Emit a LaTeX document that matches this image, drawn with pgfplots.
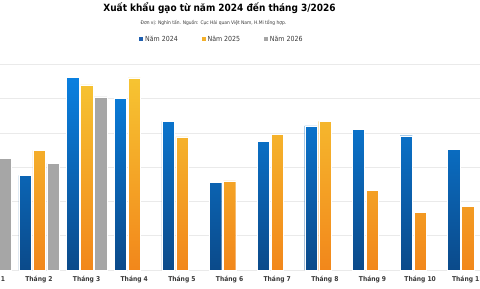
\documentclass[border=0pt]{standalone}
\usepackage{pgfplots}
\pgfplotsset{compat=1.18}
\usepackage{fontspec}
\setmainfont{DejaVu Sans Condensed}
\definecolor{bTop}{HTML}{0A80E0}
\definecolor{bBot}{HTML}{0B4A8A}
\definecolor{oTop}{HTML}{F6C432}
\definecolor{oBot}{HTML}{F2871B}
\definecolor{gFill}{HTML}{A6A6A6}
\definecolor{gridc}{HTML}{EAEAEA}
\definecolor{lab}{HTML}{3A3A3A}
\definecolor{leg24}{HTML}{1F5FAF}
\definecolor{leg25}{HTML}{F4B02A}
\begin{document}
\begin{tikzpicture}[x=1bp,y=1bp]
\path[use as bounding box, clip] (0,0) rectangle (480,288);
\fill[white] (0,0) rectangle (480,288);
\begin{axis}[
  at={(-32.5bp,18bp)}, anchor=south west,
  scale only axis, width=571.8bp, height=205.8bp,
  xmin=0.5, xmax=12.5, ymin=0, ymax=1200,
  xtick={1,...,12},
  xticklabels={Tháng 1,Tháng 2,Tháng 3,Tháng 4,Tháng 5,Tháng 6,Tháng 7,Tháng 8,Tháng 9,Tháng 10,Tháng 11,Tháng 12},
  xticklabel style={font=\bfseries\fontsize{6.7}{7}\selectfont, text=lab, yshift=-2.8bp},
  ytick={0,200,...,1200}, yticklabels={},
  ymajorgrids, grid style={draw=gridc, line width=0.6bp},
  axis line style={draw=none}, major tick length=0pt,
  legend columns=3,
  legend style={at={(0.445,1.122)}, anchor=center, draw=none, fill=none,
    font=\fontsize{7}{8}\selectfont, text=lab,
    /tikz/every even column/.append style={column sep=22bp}},
  legend image code/.code={\fill[#1, draw=none] (0bp,-1.9bp) rectangle (3.8bp,1.9bp);},
]
\addplot[ybar, bar width=0.258, bar shift=-0.294, draw=white, line width=0.4bp,
  top color=bTop, bottom color=bBot, forget plot] coordinates {
  (2,552) (3,1124) (4,1001) (5,867) (6,513) (7,752) (8,840) (9,822) (10,783) (11,704)};
\addplot[ybar, bar width=0.258, bar shift=0, draw=white, line width=0.4bp,
  top color=oTop, bottom color=oBot, forget plot] coordinates {
  (2,698) (3,1079) (4,1120) (5,776) (6,519) (7,791) (8,867) (9,466) (10,338) (11,373)};
\addplot[ybar, bar width=0.258, bar shift=0.294, draw=white, line width=0.4bp,
  fill=gFill, forget plot] coordinates {
  (1,651) (2,622) (3,1009)};
\addlegendimage{fill=leg24, draw=none}
\addlegendentry{Năm 2024}
\addlegendimage{fill=leg25, draw=none}
\addlegendentry{Năm 2025}
\addlegendimage{fill=gFill, draw=none}
\addlegendentry{Năm 2026}
\end{axis}
\node[font=\bfseries\fontsize{10}{12}\selectfont] at (219.5,279.5) {Xuất khẩu gạo từ năm 2024 đến tháng 3/2026};
\node[font=\fontsize{4.9}{6}\selectfont, text=lab] at (213.5,265) {Đơn vị: Nghìn tấn. Nguồn: Cục Hải quan Việt Nam, H.Mi tổng hợp.};
\end{tikzpicture}
\end{document}
